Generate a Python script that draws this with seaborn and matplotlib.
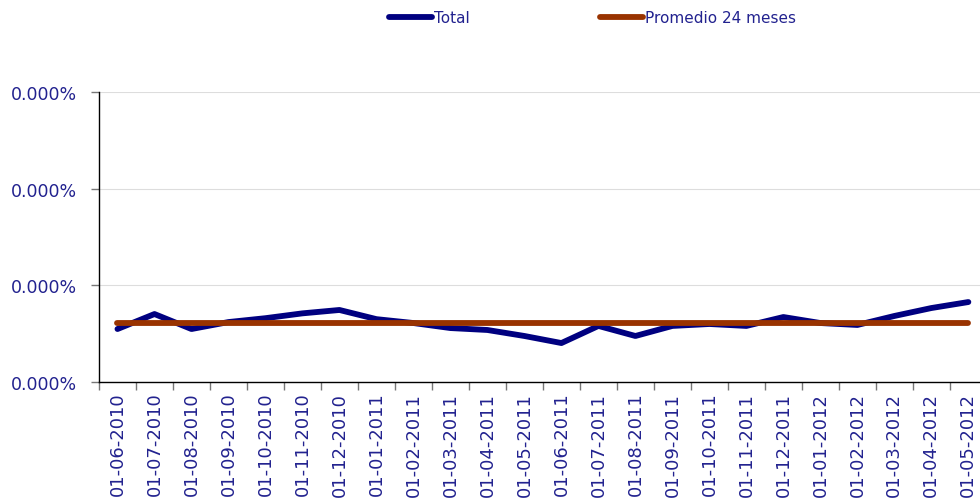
import pandas as pd
import matplotlib.pyplot as plt
import seaborn as sns
from matplotlib.ticker import FuncFormatter, FixedLocator

# Data (values are tiny fractions, so every tick shows 0.000%)
fechas = ["01-06-2010", "01-07-2010", "01-08-2010", "01-09-2010", "01-10-2010", "01-11-2010",
          "01-12-2010", "01-01-2011", "01-02-2011", "01-03-2011", "01-04-2011", "01-05-2011",
          "01-06-2011", "01-07-2011", "01-08-2011", "01-09-2011", "01-10-2011", "01-11-2011",
          "01-12-2011", "01-01-2012", "01-02-2012", "01-03-2012", "01-04-2012", "01-05-2012"]
total = [0.548, 0.703, 0.548, 0.62, 0.66, 0.71, 0.745, 0.65, 0.61, 0.558, 0.538, 0.476,
         0.403, 0.58, 0.476, 0.58, 0.60, 0.58, 0.672, 0.61, 0.59, 0.683, 0.765, 0.827]
promedio = [0.61] * 24
escala = 1e-6
y_ticks = [0, 1e-6, 2e-6, 3e-6]

df = pd.DataFrame({
    "fecha": fechas * 2,
    "valor": [v * escala for v in total + promedio],
    "serie": ["Total"] * 24 + ["Promedio 24 meses"] * 24,
})

sns.set_style("white")
plt.rcParams["font.family"] = ["DejaVu Sans"]
txt = "#22228f"

fig = plt.figure(figsize=(9.8, 5.02), dpi=100)
ax = fig.add_axes([0.101, 0.237, 0.906, 0.578])

sns.lineplot(data=df, x="fecha", y="valor", hue="serie", sort=False,
             palette={"Total": "#000080", "Promedio 24 meses": "#993300"},
             linewidth=4.2, ax=ax, legend=False)
for ln in ax.get_lines():
    ln.set_solid_capstyle("round")

ax.set_xlim(-0.5, 23.5)
ax.set_ylim(0, 3e-6)
ax.yaxis.set_major_locator(FixedLocator(y_ticks))
ax.yaxis.set_major_formatter(FuncFormatter(lambda v, p: "0.000%"))
ax.grid(axis="y", color="#dddddd", linewidth=0.8)
ax.set_axisbelow(True)

ax.set_xticks(range(24))
ax.set_xticklabels(fechas, rotation=90, fontsize=13, color=txt)
ax.xaxis.set_minor_locator(FixedLocator([i - 0.5 for i in range(25)]))
ax.tick_params(axis="x", which="major", bottom=True, length=0, pad=7)
ax.tick_params(axis="x", which="minor", bottom=True, length=6, color="#777777", width=1)
ax.tick_params(axis="y", left=True, length=6, color="#777777", width=1,
               labelsize=12.5, labelcolor=txt, pad=10)

for s in ["top", "right"]:
    ax.spines[s].set_visible(False)
for s in ["left", "bottom"]:
    ax.spines[s].set_color("black")
    ax.spines[s].set_linewidth(1)

ax.set_xlabel("")
ax.set_ylabel("")

handles = [plt.Line2D([], [], color="#000080", linewidth=4.2, solid_capstyle="round"),
           plt.Line2D([], [], color="#993300", linewidth=4.2, solid_capstyle="round")]
fig.legend(handles, ["Total", "Promedio 24 meses"], loc="center left",
           bbox_to_anchor=(0.397, 0.963), ncol=2, frameon=False, fontsize=11,
           labelcolor=txt, handlelength=2.8, handletextpad=0.15, columnspacing=8.5,
           borderaxespad=0, borderpad=0)

fig.savefig("out.png", dpi=100)
